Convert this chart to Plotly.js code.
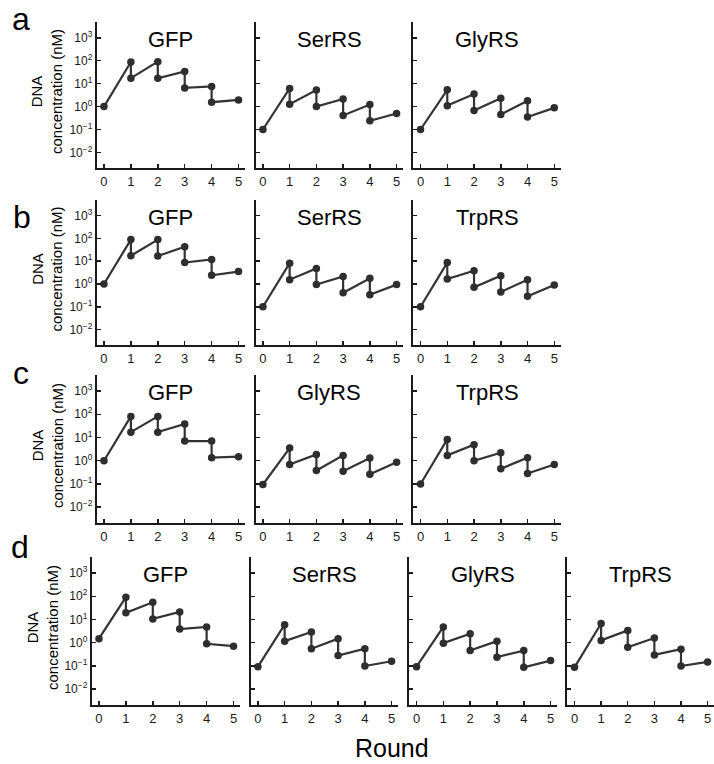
<!DOCTYPE html>
<html>
<head>
<meta charset="utf-8">
<script src="https://cdn.plot.ly/plotly-3.0.1.min.js"></script>
<style>html,body{margin:0;padding:0;background:#fff;}#chart{width:714px;height:764px;}</style>
</head>
<body>
<div id="chart"></div>
<script>
// ---- data ----
const rounds = [0, 1, 1, 2, 2, 3, 3, 4, 4, 5];
const xTickVals = [0, 1, 2, 3, 4, 5];
const xTickText = ['0', '1', '2', '3', '4', '5'];
const yTickVals = [1000, 100, 10, 1, 0.1, 0.01];
const yTickText = ['10<sup>3</sup>', '10<sup>2</sup>', '10<sup>1</sup>', '10<sup>0</sup>', '10<sup>\u22121</sup>', '10<sup>\u22122</sup>'];

const rowLabels = ['a', 'b', 'c', 'd'];
const rowA_names = ['GFP', 'SerRS', 'GlyRS'];
const rowB_names = ['GFP', 'SerRS', 'TrpRS'];
const rowC_names = ['GFP', 'GlyRS', 'TrpRS'];
const rowD_names = ['GFP', 'SerRS', 'GlyRS', 'TrpRS'];

const a_GFP   = [1.0, 88, 17.4, 91, 17, 34, 6.5, 7.6, 1.55, 1.95];
const a_SerRS = [0.1, 6.2, 1.27, 5.3, 1.0, 2.15, 0.41, 1.22, 0.24, 0.50];
const a_GlyRS = [0.1, 5.4, 1.1, 3.5, 0.67, 2.3, 0.45, 1.8, 0.35, 0.88];

const b_GFP   = [1.0, 89, 17.4, 89, 17, 43, 8.7, 12, 2.4, 3.5];
const b_SerRS = [0.1, 8.2, 1.55, 4.8, 0.94, 2.15, 0.41, 1.77, 0.34, 0.94];
const b_TrpRS = [0.1, 8.7, 1.66, 3.8, 0.72, 2.3, 0.45, 1.55, 0.29, 0.91];

const c_GFP   = [1.0, 81, 17, 81, 17, 38, 7, 7, 1.35, 1.5];
const c_GlyRS = [0.095, 3.5, 0.69, 1.87, 0.38, 1.7, 0.35, 1.3, 0.26, 0.87];
const c_TrpRS = [0.1, 8.3, 1.7, 4.9, 1.0, 2.2, 0.45, 1.35, 0.28, 0.69];

const d_GFP   = [1.5, 91, 19.4, 55, 10.6, 21, 3.9, 4.8, 0.9, 0.71];
const d_SerRS = [0.093, 6.0, 1.17, 2.9, 0.55, 1.5, 0.28, 0.55, 0.10, 0.16];
const d_GlyRS = [0.093, 4.8, 0.96, 2.45, 0.46, 1.17, 0.24, 0.46, 0.087, 0.17];
const d_TrpRS = [0.087, 6.7, 1.26, 3.4, 0.64, 1.6, 0.30, 0.53, 0.10, 0.15];

// ---- layout geometry (pixels) ----
const W = 714, H = 764;
const rows = [
  {label: 'a', names: rowA_names, series: [a_GFP, a_SerRS, a_GlyRS], top: 22, bottom: 168,
   xs: [[96.7, 245], [255.7, 403], [413.3, 560.7]], ylab: 47, letter: [21, 19]},
  {label: 'b', names: rowB_names, series: [b_GFP, b_SerRS, b_TrpRS], top: 200, bottom: 345,
   xs: [[96.7, 245], [255.7, 403], [413.3, 560.7]], ylab: 47, letter: [22, 217]},
  {label: 'c', names: rowC_names, series: [c_GFP, c_GlyRS, c_TrpRS], top: 375, bottom: 523,
   xs: [[96.7, 245], [255.7, 403], [413.3, 560.7]], ylab: 47, letter: [21, 373]},
  {label: 'd', names: rowD_names, series: [d_GFP, d_SerRS, d_GlyRS, d_TrpRS], top: 557, bottom: 705,
   xs: [[91.7, 240], [250.7, 398], [409.3, 557], [567.3, 714]], ylab: 42, letter: [20, 547]}
];

const FONT = '"Liberation Sans", Arial, Helvetica, sans-serif';
const INK = '#1a1a1a';
const px = x => x / W;
const py = y => 1 - y / H;

const traces = [];
const layout = {
  width: W, height: H, autosize: false,
  margin: {l: 0, r: 0, t: 0, b: 0, pad: 0},
  paper_bgcolor: '#fff', plot_bgcolor: '#fff',
  showlegend: false,
  font: {family: FONT, color: INK},
  annotations: []
};

let n = 0;
rows.forEach((row, ri) => {
  row.series.forEach((vals, ci) => {
    n += 1;
    const xa = n === 1 ? 'xaxis' : 'xaxis' + n;
    const ya = n === 1 ? 'yaxis' : 'yaxis' + n;
    const xr = n === 1 ? 'x' : 'x' + n;
    const yr = n === 1 ? 'y' : 'y' + n;
    traces.push({
      type: 'scatter', mode: 'lines+markers',
      x: rounds, y: vals, xaxis: xr, yaxis: yr,
      line: {color: '#333333', width: 2.2},
      marker: {color: '#2e2e2e', size: 7.5},
      cliponaxis: false, hoverinfo: 'x+y'
    });
    layout[xa] = {
      domain: [px(row.xs[ci][0]), px(row.xs[ci][1])],
      anchor: yr, range: [-0.27, 5.24],
      tickmode: 'array', tickvals: xTickVals, ticktext: xTickText,
      ticks: 'inside', ticklen: 4, tickwidth: 1.5, tickcolor: INK,
      showline: true, linecolor: INK, linewidth: 2,
      showgrid: false, zeroline: false, fixedrange: true,
      tickfont: {size: 13, family: FONT, color: INK}
    };
    layout[ya] = {
      type: 'log',
      domain: [py(row.bottom), py(row.top)],
      anchor: xr, range: [-2.68, 3.69],
      tickmode: 'array', tickvals: yTickVals, ticktext: yTickText,
      showticklabels: ci === 0,
      ticks: 'inside', ticklen: 4, tickwidth: 1.5, tickcolor: INK,
      showline: true, linecolor: INK, linewidth: 2,
      showgrid: false, zeroline: false, fixedrange: true,
      tickfont: {size: 12, family: FONT, color: INK}
    };
    // panel title
    layout.annotations.push({
      xref: 'paper', yref: 'paper',
      x: px((row.xs[ci][0] + row.xs[ci][1]) / 2), y: py(row.top + 17),
      xanchor: 'center', yanchor: 'middle', showarrow: false,
      text: row.names[ci], font: {size: 22, family: FONT, color: '#000'}
    });
  });
  // row letter
  layout.annotations.push({
    xref: 'paper', yref: 'paper', x: px(row.letter[0]), y: py(row.letter[1]),
    xanchor: 'center', yanchor: 'middle', showarrow: false,
    text: row.label, font: {size: 32, family: FONT, color: '#000'}
  });
  // y axis title
  layout.annotations.push({
    xref: 'paper', yref: 'paper', x: px(row.ylab), y: py((row.top + row.bottom) / 2 - 3),
    xanchor: 'center', yanchor: 'middle', showarrow: false, textangle: -90,
    text: 'DNA<br>concentration (nM)', font: {size: 15, family: FONT, color: '#000'}
  });
});

layout.annotations.push({
  xref: 'paper', yref: 'paper', x: px(392), y: py(748),
  xanchor: 'center', yanchor: 'middle', showarrow: false,
  text: 'Round', font: {size: 25, family: FONT, color: '#000'}
});

Plotly.newPlot('chart', traces, layout, {displayModeBar: false, staticPlot: true});
</script>
</body>
</html>
